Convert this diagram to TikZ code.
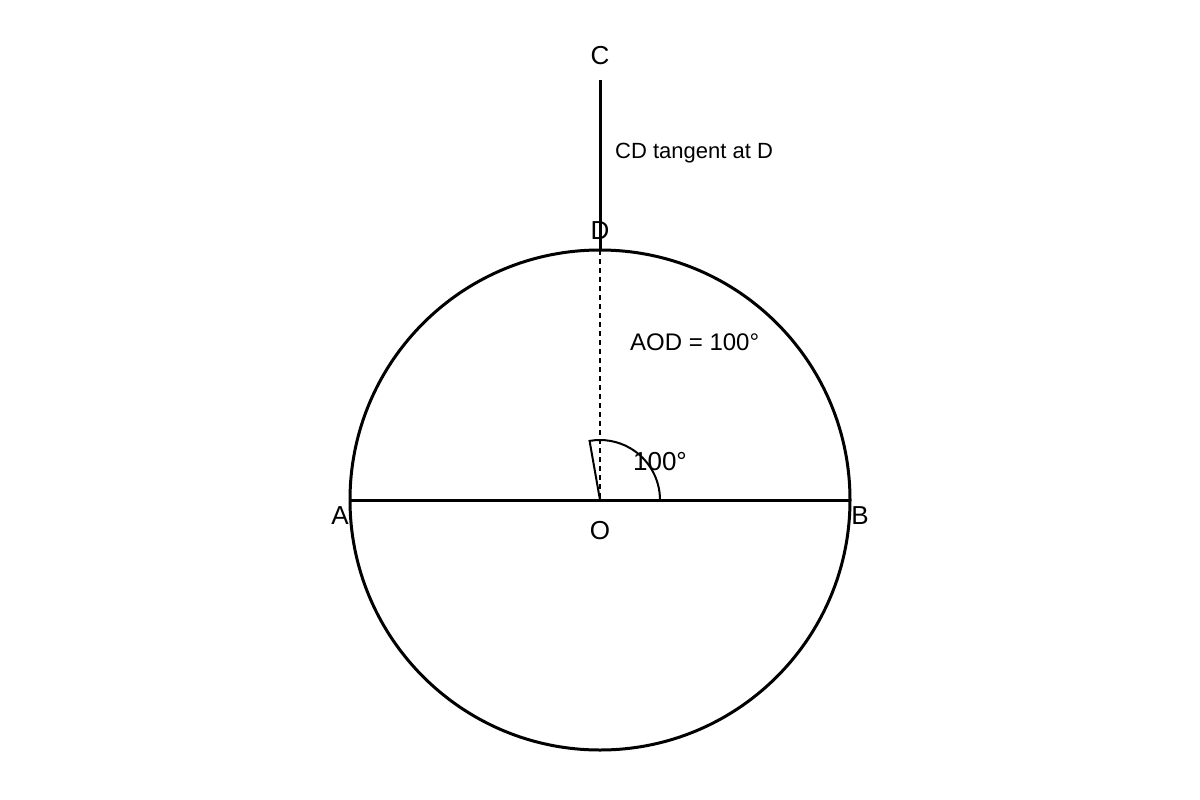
\documentclass[tikz,border=0pt]{standalone}
\usepackage{fontspec}
\setmainfont{Liberation Sans}
\usetikzlibrary{positioning}

\begin{document}
\begin{tikzpicture}[x=1pt,y=-1pt,
    pt/.style={inner sep=0pt, font=\fontsize{26}{30}\selectfont},
    lbl/.style={inner sep=0pt, anchor=west, font=\fontsize{22}{26}\selectfont},
    thickline/.style={draw=black, line width=3pt},
    thinline/.style={draw=black, line width=2pt}
]
\useasboundingbox (0,0) rectangle (1200,800);
% points
\coordinate (O) at (600,500);
\coordinate (A) at (350,500);
\coordinate (B) at (850,500);
\coordinate (D) at (600,250);
\coordinate (C) at (600,80);
\coordinate (arcstart) at (660,500);
% circle and lines
\draw[thickline] (O) circle (250);
\draw[thickline] (A) -- (B);
\draw[thickline] (C) -- (D);
\draw[thinline, dash pattern=on 5pt off 4pt] (D) -- (O);
\draw[thinline] (arcstart) arc[start angle=0, end angle=-100, radius=60] -- (O);
% labels
\node (labelC) [pt] at (600,56) {C};
\node (labelD) [pt] at (600,231) {D};
\node (labelA) [pt] at (340,516) {A};
\node (labelB) [pt] at (860,516) {B};
\node (labelO) [pt] at (600,531) {O};
\node (angle) [pt] at (660,462) {100°};
\node (tangent) [lbl] at (615,153) {CD tangent at D};
\node (aod) [lbl, font=\fontsize{24}{28}\selectfont] at (630,342) {AOD = 100°};
\end{tikzpicture}
\end{document}
